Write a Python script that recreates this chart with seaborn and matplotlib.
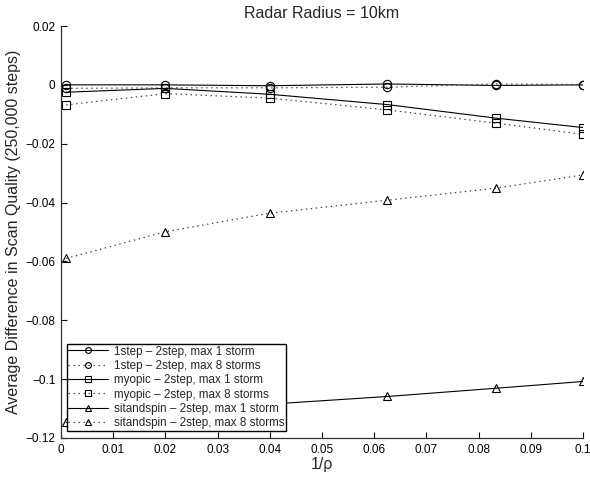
import matplotlib
matplotlib.use("Agg")
import matplotlib.pyplot as plt
import seaborn as sns

# 1/rho values on the x axis
inv_rho = [0.001, 0.02, 0.04, 0.0625, 0.0833, 0.1]

onestep_max1 = [0.0, 0.0, -0.0003, 0.0003, -0.0002, 0.0]
onestep_max8 = [-0.0012, -0.0010, -0.0010, -0.0008, 0.0003, 0.0001]
myopic_max1 = [-0.0025, -0.0012, -0.0032, -0.0067, -0.0113, -0.0145]
myopic_max8 = [-0.0068, -0.0030, -0.0045, -0.0085, -0.0130, -0.0168]
sitandspin_max1 = [-0.1147, -0.1110, -0.1085, -0.1059, -0.1031, -0.1008]
sitandspin_max8 = [-0.0590, -0.0499, -0.0436, -0.0392, -0.0351, -0.0306]

series_labels = [
    "1step \u2013 2step, max 1 storm",
    "1step \u2013 2step, max 8 storms",
    "myopic \u2013 2step, max 1 storm",
    "myopic \u2013 2step, max 8 storms",
    "sitandspin \u2013 2step, max 1 storm",
    "sitandspin \u2013 2step, max 8 storms",
]

x_ticks = [0, 0.01, 0.02, 0.03, 0.04, 0.05, 0.06, 0.07, 0.08, 0.09, 0.1]
x_tick_labels = ["0", "0.01", "0.02", "0.03", "0.04", "0.05",
                 "0.06", "0.07", "0.08", "0.09", "0.1"]
y_ticks = [-0.12, -0.1, -0.08, -0.06, -0.04, -0.02, 0, 0.02]
y_tick_labels = ["\u22120.12", "\u22120.1", "\u22120.08", "\u22120.06",
                 "\u22120.04", "\u22120.02", "0", "0.02"]

sns.set_style("white")
plt.rcParams["font.family"] = ["Liberation Sans", "DejaVu Sans"]
plt.rcParams["lines.scale_dashes"] = False

fig = plt.figure(figsize=(5.9, 4.78), dpi=100)
ax = fig.add_axes([0.1034, 0.0837, 0.8847, 0.8619])

solid = "-"
dotted = (0, (1.0, 2.6))

all_series = [
    (onestep_max1, "o", solid),
    (onestep_max8, "o", dotted),
    (myopic_max1, "s", solid),
    (myopic_max8, "s", dotted),
    (sitandspin_max1, "^", solid),
    (sitandspin_max8, "^", dotted),
]

for (values, mk, ls), lab in zip(all_series, series_labels):
    sns.lineplot(
        x=inv_rho,
        y=values,
        ax=ax,
        color="black" if ls == solid else "0.25",
        linestyle=ls,
        linewidth=0.8 if ls == solid else 0.9,
        marker=mk,
        markersize=6,
        markerfacecolor="none",
        markeredgecolor="black",
        markeredgewidth=0.8,
        label=lab,
        legend=False,
    )

ax.set_xlim(0, 0.1)
ax.set_ylim(-0.12, 0.02)
ax.set_xticks(x_ticks)
ax.set_xticklabels(x_tick_labels)
ax.set_yticks(y_ticks)
ax.set_yticklabels(y_tick_labels)
ax.tick_params(direction="in", length=4, width=0.8, labelsize=8.5,
               colors="black", pad=4, bottom=True, left=True)

for side in ["top", "right"]:
    ax.spines[side].set_visible(False)
for side in ["left", "bottom"]:
    ax.spines[side].set_color("0.2")
    ax.spines[side].set_linewidth(0.9)

ax.set_title("Radar Radius = 10km", fontsize=11.5, pad=6)
ax.set_xlabel("1/\u03c1", fontsize=11.5, labelpad=1)
ax.set_ylabel("Average Difference in Scan Quality (250,000 steps)",
              fontsize=11.5, labelpad=3)

leg = ax.legend(
    loc="lower left",
    bbox_to_anchor=(0.011, 0.017),
    borderaxespad=0,
    fontsize=8.4,
    numpoints=1,
    markerscale=0.7,
    handlelength=3.4,
    handletextpad=0.5,
    labelspacing=0.2,
    borderpad=0.15,
    fancybox=False,
    framealpha=1,
    edgecolor="black",
)
leg.get_frame().set_linewidth(1.0)

plt.savefig("out.png", dpi=100)
plt.close()
